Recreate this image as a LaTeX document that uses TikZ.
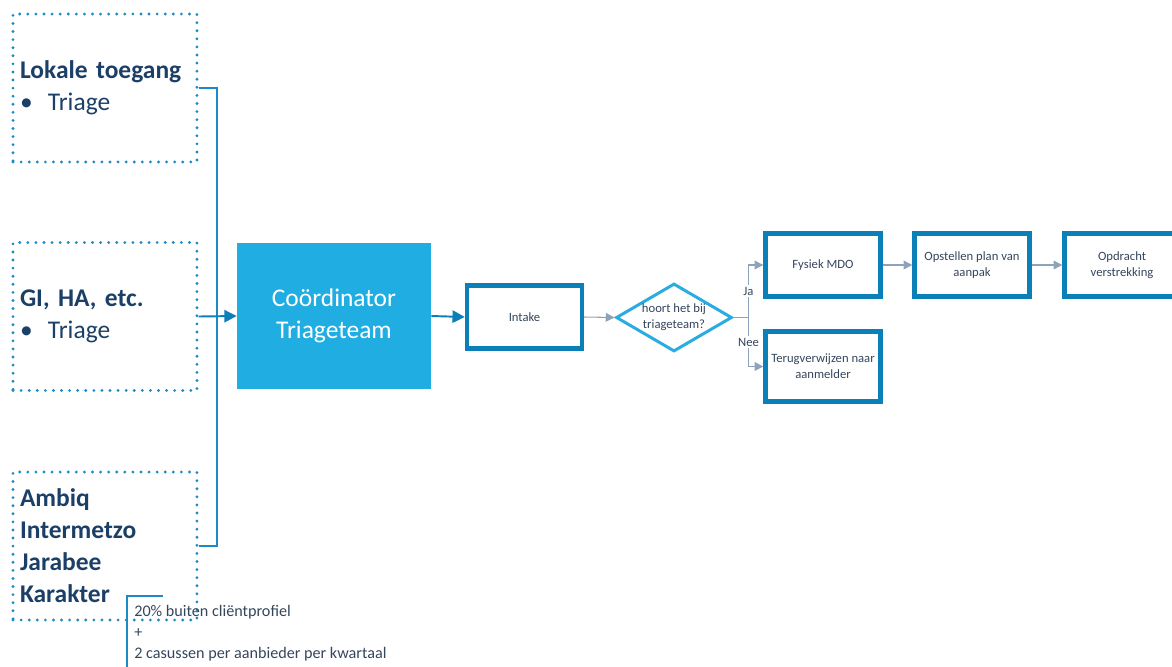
\documentclass[tikz,border=0pt]{standalone}
\usepackage{fontspec}
\setmainfont{Carlito}
\usetikzlibrary{arrows.meta,shapes.geometric}

\definecolor{navy}{HTML}{1B3F66}
\definecolor{boxblue}{HTML}{0B80B8}
\definecolor{dotblue}{HTML}{1C8AC5}
\definecolor{coordfill}{HTML}{1FADE2}
\definecolor{diablue}{HTML}{29ACE2}
\definecolor{greyarrow}{HTML}{8DA3BC}
\definecolor{smalltext}{HTML}{34465C}

\tikzset{
  dotbox/.style={draw=dotblue, line width=1.8pt, line cap=round,
    dash pattern=on 0pt off 4.6pt, minimum width=3.68cm, minimum height=2.96cm,
    text width=3.4cm, align=left, inner xsep=0.14cm, text=navy,
    font=\fontsize{14.5}{18.2}\selectfont},
  procbox/.style={draw=boxblue, line width=2.5pt, minimum width=2.3cm,
    minimum height=1.26cm, align=center, text=smalltext,
    font=\fontsize{7.2}{9}\selectfont, inner sep=1pt},
  bracket/.style={draw=dotblue, line width=1.1pt},
  darrow/.style={draw=boxblue, line width=1.1pt, -{Triangle[length=7pt,width=7pt]}},
  garrow/.style={draw=greyarrow, line width=0.6pt, -{Triangle[length=5pt,width=5pt]}},
  glabel/.style={fill=white, inner sep=1pt, text=smalltext,
    font=\fontsize{7.2}{9}\selectfont}
}

\newcommand{\bul}{\makebox[0.56cm][l]{\textbullet}}

\begin{document}
\begin{tikzpicture}[x=0.02cm, y=-0.02cm]
  \useasboundingbox (0,0) rectangle (1172,666);
  \clip (0,0) rectangle (1172,666);

  % bronnen
  \node[dotbox] (lok) at (105,88) {\textbf{Lokale toegang}\\\bul Triage};
  \node[dotbox] (gi) at (105,316.5) {\textbf{GI, HA, etc.}\\\bul Triage};
  \node[dotbox] (amb) at (105,546) {\textbf{Ambiq}\\\textbf{Intermetzo}\\\textbf{Jarabee}\\\textbf{Karakter}};

  \draw[bracket] (lok.east) -- ++(18,0) |- (amb.east);

  % coordinator
  \node[fill=coordfill, minimum width=3.88cm, minimum height=2.92cm, align=center,
    text=white, font=\fontsize{14.5}{18.2}\selectfont] (coord) at (334,316) {Coördinator\\Triageteam};
  \draw[darrow] (gi.east) -- (coord.west);

  % proces
  \node[procbox] (intake) at (524.5,317) {Intake};
  \draw[darrow] (coord.east) -- (intake.west);

  \node[draw=diablue, line width=1.7pt, shape=diamond, inner sep=0pt,
    minimum width=2.32cm, minimum height=1.36cm] (dia) at (674,317.5) {};
  \node[align=center, text=smalltext, font=\fontsize{7.2}{9}\selectfont] (vraag) at (dia) {hoort het bij\\triageteam?};
  \draw[garrow] (intake.east) -- (dia.west);

  \node[procbox] (fys) at (823,265) {Fysiek MDO};
  \node[procbox, minimum height=1.4cm] (terug) at (823,366.5) {Terugverwijzen naar\\aanmelder};
  \node[procbox] (opst) at (972,265) {Opstellen plan van\\aanpak};
  \node[procbox] (opdr) at (1122,265) {Opdracht\\verstrekking};

  \draw[draw=greyarrow, line width=0.6pt] (dia.east) -- ++(15,0) coordinate (split);
  \draw[garrow] (split) |- (fys.west) node[glabel, pos=0.25] (ja) {Ja};
  \draw[garrow] (split) |- (terug.west) node[glabel, pos=0.25] (nee) {Nee};
  \draw[garrow] (fys.east) -- (opst.west);
  \draw[garrow] (opst.east) -- (opdr.west);

  % voorwaarde
  \node[anchor=north west, align=left, inner sep=0pt, text=smalltext,
    font=\fontsize{9.2}{11.9}\selectfont] (voorw) at (134,605)
    {20\% buiten cliëntprofiel\\+\\2 casussen per aanbieder per kwartaal};
  \coordinate (vb) at (163,596);
  \coordinate (ve) at (127,680);
  \draw[bracket, line width=1.6pt] (vb) -| (ve);
\end{tikzpicture}
\end{document}
